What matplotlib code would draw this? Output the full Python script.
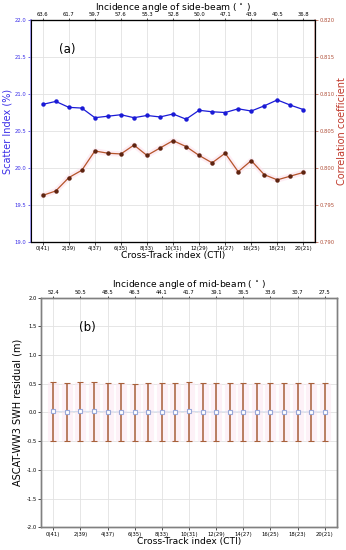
import numpy as np
import matplotlib
matplotlib.use("Agg")
import matplotlib.pyplot as plt

# Cross-track index (bottom axis) and labels
cti = list(range(21))
cti_ticks = list(range(0, 21, 2))
cti_labels = ["0(41)", "2(39)", "4(37)", "6(35)", "8(33)", "10(31)",
              "12(29)", "14(27)", "16(25)", "18(23)", "20(21)"]

# Incidence angles (top axes)
side_angles = ["63.6", "61.7", "59.7", "57.6", "55.3", "52.8",
               "50.0", "47.1", "43.9", "40.5", "36.8"]
mid_angles = ["52.4", "50.5", "48.5", "46.3", "44.1", "41.7",
              "39.1", "36.5", "33.6", "30.7", "27.5"]

# Panel (a): scatter index (%) and correlation coefficient
scatter_index = [20.86, 20.90, 20.82, 20.81, 20.68, 20.70, 20.72, 20.68, 20.71, 20.69,
                 20.73, 20.66, 20.78, 20.76, 20.75, 20.80, 20.77, 20.84, 20.92, 20.85, 20.79]
corr_coef = [0.7963, 0.7969, 0.7987, 0.7997, 0.8023, 0.8020, 0.8019, 0.8031, 0.8017, 0.8027,
             0.8037, 0.8029, 0.8017, 0.8007, 0.8020, 0.7995, 0.8010, 0.7991, 0.7984, 0.7989, 0.7994]

# Panel (b): SWH residual mean and std
resid_mean = [0.02, 0.01, 0.02, 0.02, 0.01, 0.01, 0.00, 0.01, 0.01, 0.01, 0.02,
              0.01, 0.01, 0.01, 0.01, 0.01, 0.01, 0.01, 0.01, 0.01, 0.01]
resid_std = [0.51, 0.51, 0.51, 0.51, 0.51, 0.50, 0.50, 0.50, 0.50, 0.50, 0.51,
             0.50, 0.50, 0.50, 0.50, 0.50, 0.50, 0.50, 0.50, 0.50, 0.50]

TICK_FS = 3.8
XLABEL_FS = 6.6
YLABEL_FS = 7.0
BLUE = '#3a2ee8'
RED = '#c0392b'
GRID = '#e2e2e2'


def plot_cti():
    fig = plt.figure(figsize=(3.46, 5.5), dpi=100)

    # ---------------- (a) ----------------
    ax1 = fig.add_axes([0.0896, 0.56, 0.821, 0.4036])
    ax1.set_xlim(-0.9, 20.9)
    ax1.set_ylim(19.0, 22.0)
    ax1.set_yticks(np.arange(19.0, 22.01, 0.5))
    ax1.set_yticklabels(["%.1f" % v for v in np.arange(19.0, 22.01, 0.5)])
    ax1.set_xticks(cti_ticks)
    ax1.set_xticklabels(cti_labels)
    ax1.grid(True, color=GRID, lw=0.6)
    ax1.set_axisbelow(True)
    ax1.plot(cti, scatter_index, '-o', color='#1a1ad6', lw=0.9, ms=2.2, zorder=3)
    ax1.set_ylabel("Scatter Index (%)", fontsize=YLABEL_FS, color=BLUE, labelpad=1.5)
    ax1.set_xlabel("Cross-Track index (CTI)", fontsize=XLABEL_FS, labelpad=0)
    ax1.tick_params(axis='y', labelsize=TICK_FS, colors=BLUE, length=2, width=0.5, pad=1.2)
    ax1.tick_params(axis='x', labelsize=TICK_FS, length=2, width=0.5, pad=1.0)
    ax1.spines['left'].set_color('#8f86f0')
    ax1.spines['left'].set_linewidth(1.2)
    ax1.text(0.1, 0.865, "(a)", transform=ax1.transAxes, fontsize=8.5, va='center')

    ax2 = ax1.twinx()
    ax2.set_ylim(0.790, 0.820)
    ax2.set_yticks(np.arange(0.790, 0.8201, 0.005))
    ax2.set_yticklabels(["%.3f" % v for v in np.arange(0.790, 0.8201, 0.005)])
    # faint pink glow behind the correlation line
    ax2.plot(cti, corr_coef, '-', color='#fde2ee', lw=4, alpha=0.6, zorder=1)
    ax2.plot(cti, corr_coef, '-o', color='#b5542a', lw=0.9, ms=2.2,
             mfc='#5e2410', mec='#5e2410', zorder=3)
    ax2.set_ylabel("Correlation coefficient", fontsize=YLABEL_FS, color=RED, labelpad=1.5)
    ax2.tick_params(axis='y', labelsize=TICK_FS, colors='#b0503a', length=2, width=0.5, pad=1.2)
    ax2.spines['right'].set_color('#c9a09a')
    ax2.spines['right'].set_linewidth(1.2)
    ax2.spines['left'].set_visible(False)

    ax3 = ax1.twiny()
    ax3.set_xlim(ax1.get_xlim())
    ax3.set_xticks(cti_ticks)
    ax3.set_xticklabels(side_angles)
    ax3.tick_params(axis='x', labelsize=TICK_FS, length=1.5, width=0.5, pad=0.6)
    ax3.set_xlabel("Incidence angle of side-beam ( $^{\\circ}$ )", fontsize=XLABEL_FS, labelpad=1.8)

    # ---------------- (b) ----------------
    bx = fig.add_axes([0.1185, 0.0413, 0.8555, 0.4175])
    bx.set_xlim(-0.9, 20.9)
    bx.set_ylim(-2.0, 2.0)
    bx.set_yticks(np.arange(-2.0, 2.01, 0.5))
    bx.set_yticklabels(["%.1f" % v for v in np.arange(-2.0, 2.01, 0.5)])
    bx.set_xticks(cti_ticks)
    bx.set_xticklabels(cti_labels)
    bx.grid(True, color=GRID, lw=0.6)
    bx.set_axisbelow(True)
    # pale pink halo around the error bars
    bx.errorbar(cti, resid_mean, yerr=resid_std, fmt='none', ecolor='#fde8f2',
                elinewidth=8, alpha=0.6, zorder=1)
    bx.plot(cti, resid_mean, '-', color='#cdd8ec', lw=0.6, zorder=2)
    bx.errorbar(cti, resid_mean, yerr=resid_std, fmt='s', ms=3, mfc='white',
                mec='#9aa8d8', mew=0.8, ecolor='#a8603a', elinewidth=1.1,
                capsize=2, capthick=0.7, zorder=3)
    bx.set_ylabel("ASCAT-WW3 SWH residual (m)", fontsize=YLABEL_FS, labelpad=3)
    bx.set_xlabel("Cross-Track index (CTI)", fontsize=XLABEL_FS, labelpad=0)
    bx.tick_params(labelsize=TICK_FS, length=2, width=0.5, pad=1.2)
    for s in bx.spines.values():
        s.set_color('#808080')
        s.set_linewidth(1.0)
    bx.text(0.13, 0.87, "(b)", transform=bx.transAxes, fontsize=8.5, va='center')

    bx2 = bx.twiny()
    bx2.set_xlim(bx.get_xlim())
    bx2.set_xticks(cti_ticks)
    bx2.set_xticklabels(mid_angles)
    bx2.tick_params(axis='x', labelsize=TICK_FS, length=1.5, width=0.5, pad=0.6)
    bx2.set_xlabel("Incidence angle of mid-beam ( $^{\\circ}$ )", fontsize=XLABEL_FS, labelpad=1.8)
    for s in bx2.spines.values():
        s.set_color('#808080')
        s.set_linewidth(1.0)

    plt.savefig("out.png", dpi=100)


if __name__ == "__main__":
    plot_cti()
